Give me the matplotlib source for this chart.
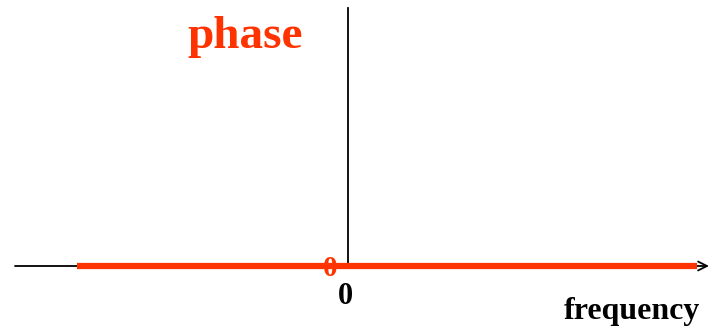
import matplotlib.pyplot as plt

# phase spectrum: zero at all frequencies
freq = [-271, 349]
phase = [0, 0]

RED = '#ff3300'
SERIF = ['Liberation Serif', 'DejaVu Serif']

fig = plt.figure(figsize=(7.09, 3.30), dpi=100)
ax = fig.add_axes([0, 0, 1, 1])
ax.set_xlim(-348, 361)
ax.set_ylim(-64, 266)
ax.axis('off')

# axes
ax.annotate('', xy=(361, 0), xytext=(-333, 0),
            arrowprops=dict(arrowstyle='->', color='black', lw=1.3,
                            shrinkA=0, shrinkB=0, mutation_scale=16),
            zorder=1)
ax.plot([0, 0], [0, 258], color='black', lw=1.3, zorder=1)

# phase line
ax.plot(freq, phase, color=RED, lw=4.5, solid_capstyle='butt', zorder=3)

ax.text(-18, -2, '0', color=RED, fontsize=21, fontweight='bold', family=SERIF,
        ha='center', va='center', zorder=4)
ax.text(-3, -31, '0', color='black', fontsize=22, fontweight='bold', family=SERIF,
        ha='center', va='center')
ax.text(284, -45, 'frequency', color='black', fontsize=23, fontweight='bold',
        family=SERIF, ha='center', va='center')
ax.text(-103, 229, 'phase', color=RED, fontsize=34, fontweight='bold',
        family=SERIF, ha='center', va='center')

plt.savefig('out.png', dpi=100)
